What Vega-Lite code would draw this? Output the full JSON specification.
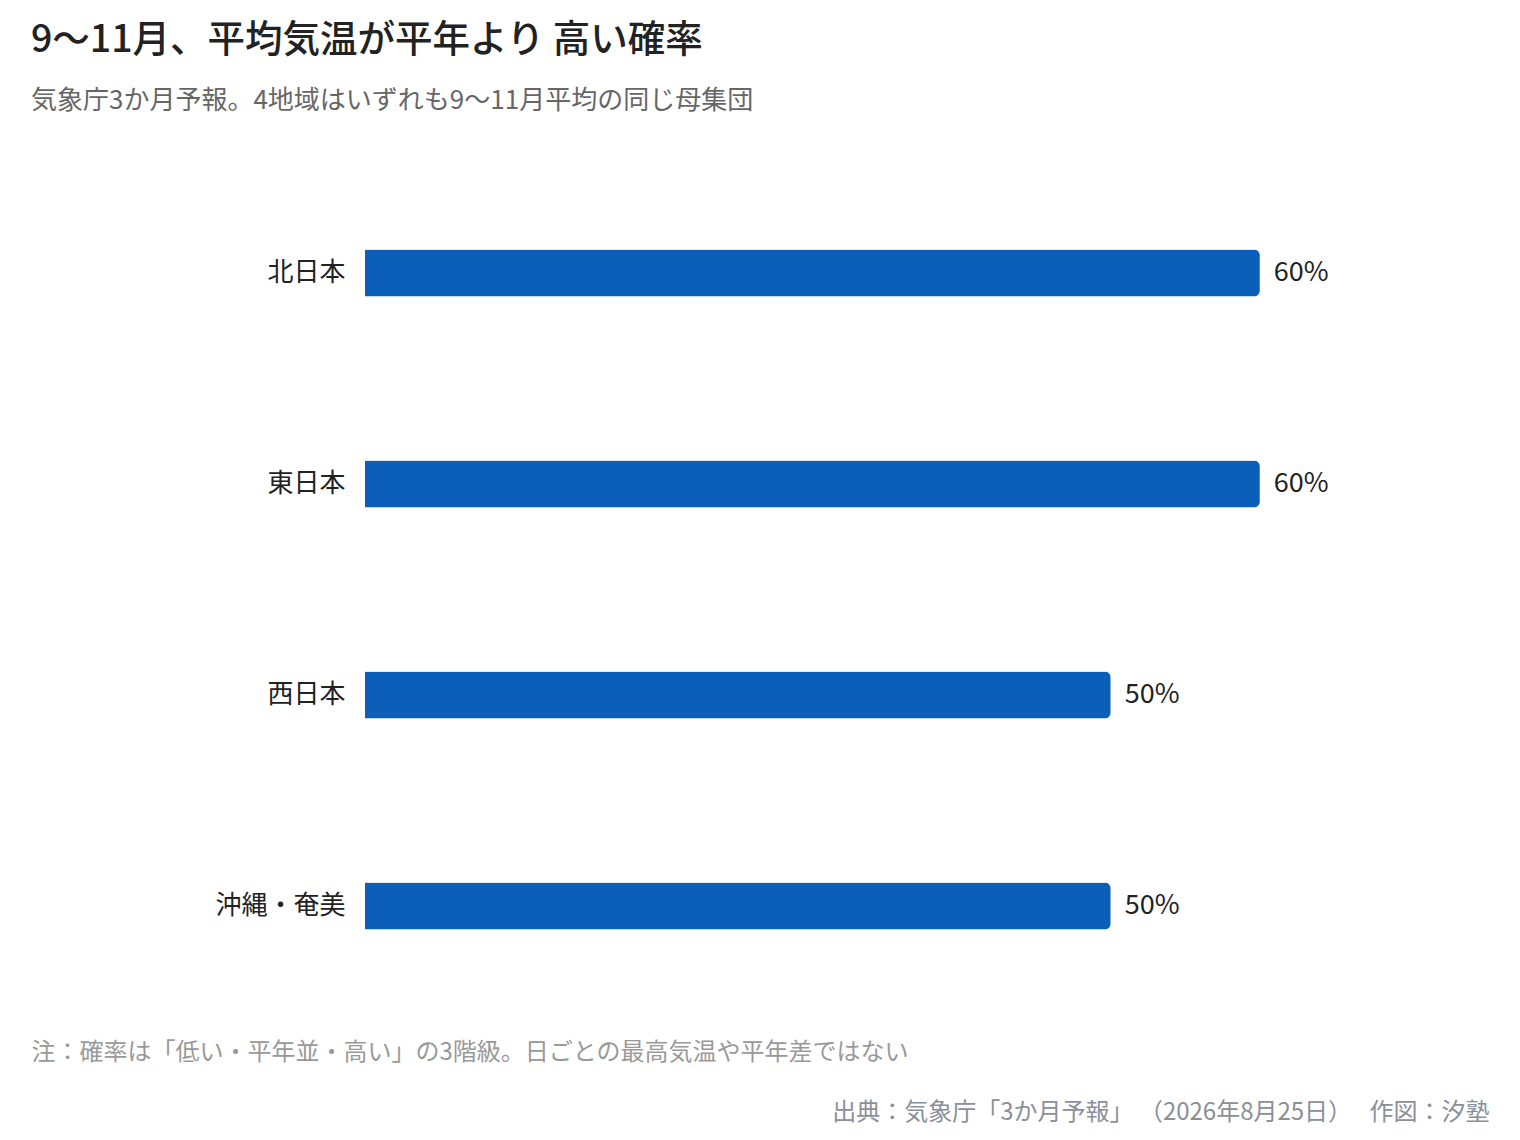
{
  "$schema": "https://vega.github.io/schema/vega-lite/v6.json",
  "autosize": {"type": "none"},
  "padding": {"left": 365, "top": 167.5, "right": 111, "bottom": 128.5},
  "width": 1044,
  "height": 844,
  "background": "#ffffff",
  "title": {
    "text": "9〜11月、平均気温が平年より 高い確率",
    "subtitle": "気象庁3か月予報。4地域はいずれも9〜11月平均の同じ母集団",
    "anchor": "start",
    "frame": "group",
    "dx": -334,
    "offset": 54,
    "fontSize": 37.5,
    "fontWeight": 500,
    "color": "#222222",
    "subtitleFontSize": 26,
    "subtitleColor": "#666666",
    "subtitlePadding": 28
  },
  "data": {
    "values": [
      {"region": "北日本", "p": 60, "label": "60%"},
      {"region": "東日本", "p": 60, "label": "60%"},
      {"region": "西日本", "p": 50, "label": "50%"},
      {"region": "沖縄・奄美", "p": 50, "label": "50%"}
    ]
  },
  "layer": [
    {
      "mark": {"type": "bar", "color": "#0B5FB8", "cornerRadiusEnd": 6},
      "encoding": {
        "x": {
          "field": "p", "type": "quantitative",
          "scale": {"domain": [0, 70]},
          "axis": {
            "orient": "bottom",
            "domain": false, "ticks": false, "labels": false, "grid": false,
            "title": "注：確率は「低い・平年並・高い」の3階級。日ごとの最高気温や平年差ではない",
            "titleX": -334, "titleY": 40.5, "titleAlign": "left", "titleAnchor": null,
            "titleBaseline": "middle", "titleFontSize": 24, "titleFontWeight": 400, "titleColor": "#999999"
          }
        },
        "y": {
          "field": "region", "type": "nominal", "sort": null,
          "scale": {"paddingInner": 0.777, "paddingOuter": 0.3885},
          "axis": {"title": null, "domain": false, "ticks": false, "labelFontSize": 26, "labelColor": "#222222", "labelPadding": 20}
        }
      }
    },
    {
      "mark": {"type": "text", "align": "left", "baseline": "middle", "dx": 14, "fontSize": 27, "color": "#222222"},
      "encoding": {
        "x": {
          "field": "p", "type": "quantitative",
          "scale": {"domain": [0, 70]},
          "axis": {
            "orient": "bottom",
            "domain": false, "ticks": false, "labels": false, "grid": false,
            "title": "出典：気象庁「3か月予報」 （2026年8月25日）　 作図：汐塾",
            "titleX": 1124, "titleY": 100.5, "titleAlign": "right", "titleAnchor": null,
            "titleBaseline": "middle", "titleFontSize": 24, "titleFontWeight": 400, "titleColor": "#8a8f99"
          }
        },
        "y": {"field": "region", "type": "nominal", "sort": null},
        "text": {"field": "label"}
      }
    }
  ],
  "resolve": {"axis": {"x": "independent"}},
  "config": {
    "font": "Noto Sans CJK JP",
    "view": {"stroke": null}
  }
}
